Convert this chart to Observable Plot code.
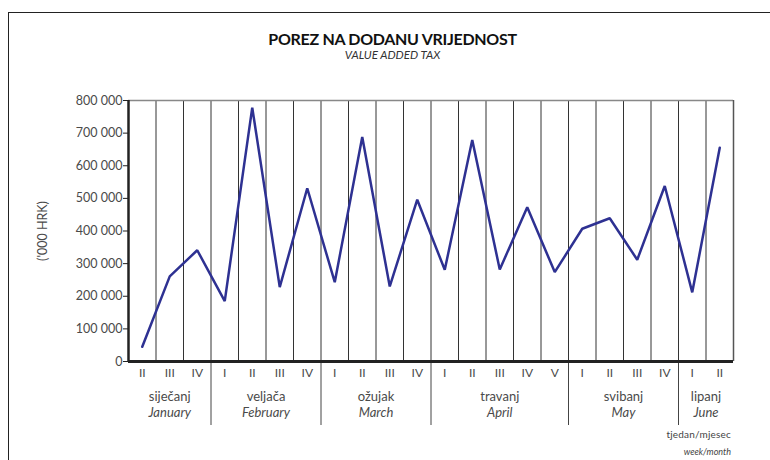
<!DOCTYPE html>
<html>
<head>
<meta charset="utf-8">
<script src="https://cdn.jsdelivr.net/npm/d3@7"></script>
<script src="https://cdn.jsdelivr.net/npm/@observablehq/plot@0.6"></script>
<style>
  body { margin: 0; background: #fff; }
  #wrap { position: relative; width: 770px; height: 460px; overflow: hidden; font-family: Lato, "Open Sans", sans-serif; }
  #frame { position: absolute; left: 8px; top: 12px; width: 800px; height: 500px; border-left: 1.5px solid #222; border-top: 1.5px solid #222; }
  #title { position: absolute; left: 0; top: 31px; width: 785px; text-align: center; font-weight: bold; font-size: 16px; line-height: 16px; letter-spacing: -0.3px; color: #111; }
  #subtitle { position: absolute; left: 0; top: 49px; width: 785px; text-align: center; font-style: italic; font-size: 11.5px; line-height: 12px; color: #333; }
  #foot1 { position: absolute; right: 39px; top: 429px; font-size: 10px; line-height: 11px; color: #444; letter-spacing: 0.2px; }
  #foot2 { position: absolute; right: 39px; top: 447px; font-size: 9px; line-height: 10px; font-style: italic; color: #444; }
  #chart { position: absolute; left: 0; top: 0; }
</style>
</head>
<body>
<div id="wrap">
  <div id="frame"></div>
  <div id="title">POREZ NA DODANU VRIJEDNOST</div>
  <div id="subtitle">VALUE ADDED TAX</div>
  <div id="chart"></div>
  <div id="foot1">tjedan/mjesec</div>
  <div id="foot2">week/month</div>
</div>
<script>
const monthsHr = ["siječanj", "veljača", "ožujak", "travanj", "svibanj", "lipanj"];
const monthsEn = ["January", "February", "March", "April", "May", "June"];
const weeks = [
  ["II", "III", "IV"],
  ["I", "II", "III", "IV"],
  ["I", "II", "III", "IV"],
  ["I", "II", "III", "IV", "V"],
  ["I", "II", "III", "IV"],
  ["I", "II"]
];
const values = [
  45000, 261000, 341000,
  185000, 778000, 228000, 531000,
  243000, 688000, 230000, 496000,
  281000, 679000, 282000, 473000, 274000,
  407000, 439000, 312000, 538000,
  212000, 655000
];
const yTicks = [0, 100000, 200000, 300000, 400000, 500000, 600000, 700000, 800000];

// build tables
const pts = [];
const monthInfo = [];
let k = 0;
weeks.forEach((ws, m) => {
  const start = k;
  ws.forEach(w => { pts.push({pos: k + 0.5, week: w, value: values[k]}); k++; });
  monthInfo.push({start, end: k, center: (start + k) / 2, hr: monthsHr[m], en: monthsEn[m]});
});
const n = values.length;
const boundaries = monthInfo.slice(1).map(d => d.start);
const fmt = d => d3.format(",")(d).replace(/,/g, " ");

const chart = Plot.plot({
  width: 770,
  height: 460,
  marginTop: 100,
  marginLeft: 128,
  marginRight: 37,
  marginBottom: 99,
  style: {fontFamily: "Lato, 'Open Sans', sans-serif", fontSize: "12.5px", color: "#444", background: "transparent"},
  x: {domain: [0, n], axis: null},
  y: {domain: [0, 800000], axis: null},
  marks: [
    Plot.ruleX(d3.range(1, n), {stroke: "#333", strokeWidth: 1}),
    Plot.ruleY([800000], {stroke: "#888", strokeWidth: 1.5}),
    Plot.ruleX([n], {stroke: "#555", strokeWidth: 1.5}),
    Plot.ruleX(boundaries, {y1: 0, y2: 0, insetBottom: -64, stroke: "#444", strokeWidth: 1}),
    Plot.axisY({ticks: yTicks, tickFormat: fmt, tickSize: 5, tickPadding: 1, stroke: "#222", fill: "#4a4a4a",
      label: "('000 HRK)", labelAnchor: "center", labelArrow: "none", labelOffset: 90}),
    Plot.line(pts, {x: "pos", y: "value", stroke: "#2e3192", strokeWidth: 2.5, strokeLinejoin: "miter"}),
    Plot.ruleX([0], {stroke: "#222", strokeWidth: 2.5}),
    Plot.ruleY([0], {stroke: "#222", strokeWidth: 3}),
    Plot.text(pts, {x: "pos", frameAnchor: "bottom", dy: 15, text: "week", fill: "#4a4a4a", fontSize: 12}),
    Plot.text(monthInfo, {x: "center", frameAnchor: "bottom", dy: 39, text: "hr", fill: "#4a4a4a", fontSize: 13}),
    Plot.text(monthInfo, {x: "center", frameAnchor: "bottom", dy: 55, text: "en", fill: "#4a4a4a", fontSize: 13, fontStyle: "italic"})
  ]
});
document.getElementById("chart").appendChild(chart);
</script>
</body>
</html>
